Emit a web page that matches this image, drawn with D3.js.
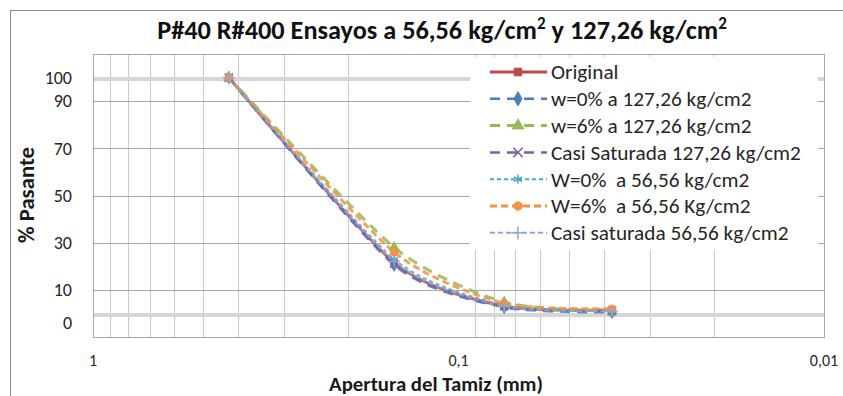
<!DOCTYPE html>
<html>
<head>
<meta charset="utf-8">
<script src="https://cdn.jsdelivr.net/npm/d3@7"></script>
<style>
  body { margin: 0; background: #fff; }
  svg { display: block; font-family: Calibri, Carlito, Lato, sans-serif; }
  text { white-space: pre; }
</style>
</head>
<body>
<div class="container"></div>
<script>
// DATA
const aperturas = [0.425, 0.15, 0.075, 0.038];   // mm, eje x logaritmico
const original   = [100, 21.5, 3.0, 1.5];
const w0_127     = [100, 20.5, 2.6, 0.5];
const w6_127     = [100, 28.0, 4.8, 1.0];
const sat_127    = [100, 21.0, 3.0, 1.0];
const w0_56      = [100, 23.0, 3.5, 1.0];
const w6_56      = [100, 26.0, 4.3, 2.0];
const sat_56     = [100, 22.0, 3.0, 1.0];

const seriesNames = [
  "Original",
  "w=0% a 127,26 kg/cm2",
  "w=6% a 127,26 kg/cm2",
  "Casi Saturada 127,26 kg/cm2",
  "W=0%  a 56,56 kg/cm2",
  "W=6%  a 56,56 Kg/cm2",
  "Casi saturada 56,56 kg/cm2"
];
const seriesValues = [original, w0_127, w6_127, sat_127, w0_56, w6_56, sat_56];

const xTicks = [1, 0.1, 0.01];
const xTickLabels = ["1", "0,1", "0,01"];
const yTicks = [0, 10, 30, 50, 70, 90, 100];

// estilo de cada serie
const styles = [
  { color: "#BE4B48", dash: null,   width: 3,   marker: "square" },
  { color: "#4A7EBB", dash: "10,7", width: 2.5, marker: "diamond" },
  { color: "#98B954", dash: "10,7", width: 3,   marker: "triangle" },
  { color: "#7D60A0", dash: "10,7", width: 2.5, marker: "cross" },
  { color: "#46AAC5", dash: "4,3",  width: 2,   marker: "asterisk" },
  { color: "#F69240", dash: "7,4",  width: 3,   marker: "circle" },
  { color: "#8EA6D8", dash: "5,3",  width: 2,   marker: "plus" }
];

// SETUP
const width = 843;
const height = 396;
const plot = { left: 93, right: 824, top: 54, bottom: 337 };

const svg = d3.select(".container")
  .append("svg")
  .attr("width", width)
  .attr("height", height);

// borde exterior del grafico
svg.append("rect")
  .attr("x", 10.5).attr("y", 10.5)
  .attr("width", 900).attr("height", 500)
  .attr("fill", "#fff")
  .attr("stroke", "#8c8c8c");

const xScale = d3.scaleLog()
  .domain([1, 0.01])
  .range([plot.left, plot.right]);

const yScale = d3.scaleLinear()
  .domain([-10, 110])
  .range([plot.bottom, plot.top]);

// ajusta el tamano de letra para que el texto ocupe un ancho dado
function fitText(sel, target) {
  const w = sel.node().getComputedTextLength();
  const fs = parseFloat(sel.attr("font-size"));
  sel.attr("font-size", fs * target / w);
  return fs * target / w;
}

// GRID
const grid = svg.append("g");
// multiplos dentro de cada decada
const vLines = [];
[0.1, 0.01].forEach(dec => { for (let k = 2; k <= 9; k++) vLines.push(k * dec); });

grid.selectAll(".vgrid")
  .data(vLines)
  .enter().append("line")
  .attr("x1", d => Math.round(xScale(d)) + 0.5)
  .attr("x2", d => Math.round(xScale(d)) + 0.5)
  .attr("y1", plot.top).attr("y2", plot.bottom)
  .attr("stroke", "#c9c9c9");

grid.selectAll(".hgrid")
  .data([10, 30, 50, 70, 90])
  .enter().append("line")
  .attr("x1", plot.left).attr("x2", plot.right)
  .attr("y1", d => Math.round(yScale(d)) + 0.5)
  .attr("y2", d => Math.round(yScale(d)) + 0.5)
  .attr("stroke", "#a9a9a9");

// bandas en 0 y 100
grid.selectAll(".band")
  .data([0, 100])
  .enter().append("line")
  .attr("x1", plot.left).attr("x2", plot.right)
  .attr("y1", d => yScale(d) + 1.5)
  .attr("y2", d => yScale(d) + 1.5)
  .attr("stroke", "#d6d6d6")
  .attr("stroke-width", 4);

svg.append("rect")
  .attr("x", plot.left + 0.5).attr("y", plot.top + 0.5)
  .attr("width", plot.right - plot.left)
  .attr("height", plot.bottom - plot.top)
  .attr("fill", "none")
  .attr("stroke", "#a6a6a6");

// AXES
svg.selectAll(".ylab")
  .data(yTicks)
  .enter().append("text")
  .attr("x", 72)
  .attr("y", d => yScale(d) + (d === 0 ? 9 : 0))
  .attr("dy", "0.35em")
  .attr("text-anchor", "end")
  .attr("font-size", 18)
  .attr("fill", "#262626")
  .text(d => d);

svg.selectAll(".xlab")
  .data(xTicks)
  .enter().append("text")
  .attr("x", d => xScale(d))
  .attr("y", 366)
  .attr("text-anchor", "middle")
  .attr("font-size", 16)
  .attr("fill", "#262626")
  .text((d, i) => xTickLabels[i]);

const yTitle = svg.append("text")
  .attr("transform", "translate(34,195) rotate(-90)")
  .attr("text-anchor", "middle")
  .attr("font-weight", "bold")
  .attr("font-size", 18)
  .attr("fill", "#1a1a1a")
  .text("% Pasante");
fitText(yTitle, 96);

const xTitle = svg.append("text")
  .attr("x", 436).attr("y", 391)
  .attr("text-anchor", "middle")
  .attr("font-weight", "bold")
  .attr("font-size", 16)
  .attr("fill", "#1a1a1a")
  .text("Apertura del Tamiz (mm)");
fitText(xTitle, 214);

// TITLE
const title = svg.append("text")
  .attr("x", 442).attr("y", 39)
  .attr("text-anchor", "middle")
  .attr("font-size", 24)
  .attr("font-weight", 600)
  .attr("fill", "#111");
title.append("tspan").text("P#40 R#400 Ensayos a 56,56 kg/cm");
title.append("tspan").attr("baseline-shift", "super").attr("font-size", "0.65em").text("2");
title.append("tspan").text(" y 127,26 kg/cm");
title.append("tspan").attr("baseline-shift", "super").attr("font-size", "0.65em").text("2");
fitText(title, 570);

// MARKERS
const symbolTypes = {
  square: d3.symbolSquare, diamond: d3.symbolDiamond, triangle: d3.symbolTriangle,
  cross: d3.symbolX, asterisk: d3.symbolAsterisk, circle: d3.symbolCircle, plus: d3.symbolPlus
};
function drawMarker(g, st, size) {
  const open = st.marker === "cross" || st.marker === "asterisk" || st.marker === "plus";
  return g.append("path")
    .attr("d", d3.symbol().type(symbolTypes[st.marker]).size(size))
    .attr("fill", open ? "none" : st.color)
    .attr("stroke", st.color)
    .attr("stroke-width", open ? 1.5 : 0.8);
}

// LINES
const line = d3.line()
  .x((d, i) => xScale(aperturas[i]))
  .y(d => yScale(d))
  .curve(d3.curveCardinal.tension(0.3));

const lines = svg.append("g");
seriesValues.forEach((vals, s) => {
  const st = styles[s];
  lines.append("path")
    .datum(vals)
    .attr("d", line)
    .attr("fill", "none")
    .attr("stroke", st.color)
    .attr("stroke-width", st.width)
    .attr("stroke-dasharray", st.dash)
    .attr("opacity", 0.85);
});
seriesValues.forEach((vals, s) => {
  vals.forEach((v, i) => {
    const g = lines.append("g")
      .attr("transform", `translate(${xScale(aperturas[i])},${yScale(v)})`);
    drawMarker(g, styles[s], 45);
  });
});

// LEGEND
const legend = svg.append("g");
legend.append("rect")
  .attr("x", 470).attr("y", 57)
  .attr("width", 348).attr("height", 193)
  .attr("fill", "#fff");

const rows = legend.selectAll(".row")
  .data(seriesNames)
  .enter().append("g")
  .attr("transform", (d, i) => `translate(0,${72 + i * 26.8})`);

rows.append("line")
  .attr("x1", 490).attr("x2", 547)
  .attr("stroke", (d, i) => styles[i].color)
  .attr("stroke-width", (d, i) => styles[i].width)
  .attr("stroke-dasharray", (d, i) => styles[i].dash);

rows.each(function(d, i) {
  const g = d3.select(this).append("g").attr("transform", "translate(518,0)");
  drawMarker(g, styles[i], 60);
});

const legendTexts = rows.append("text")
  .attr("x", 551)
  .attr("dy", "0.35em")
  .attr("font-size", 19)
  .attr("fill", "#262626")
  .text(d => d);

const longest = legendTexts.filter((d, i) => i === 3);
const fs = fitText(longest, 250);
legendTexts.attr("font-size", fs);
</script>
</body>
</html>
